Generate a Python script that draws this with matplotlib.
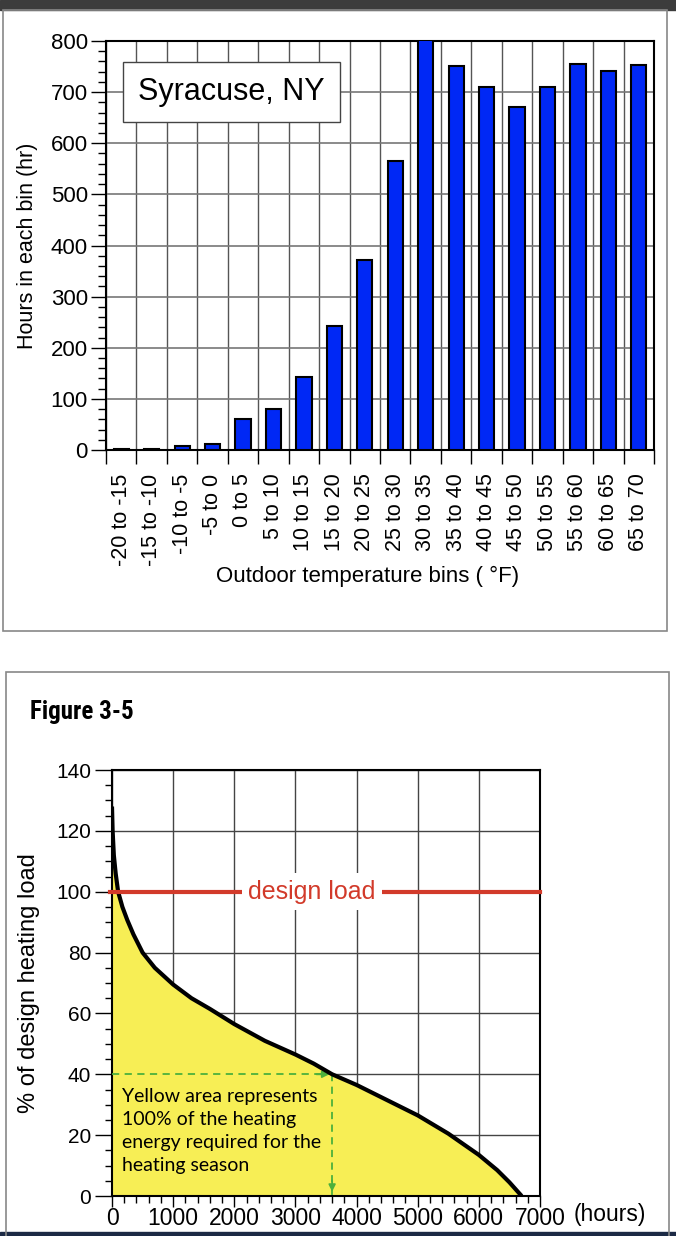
import matplotlib
matplotlib.use("Agg")
from matplotlib import pyplot as plt
from matplotlib import font_manager
from matplotlib.patches import Rectangle
from matplotlib.ticker import MultipleLocator
import numpy as np

plt.rcParams['font.family'] = ['Liberation Sans', 'DejaVu Sans']

# top chart data: hours per temperature bin, Syracuse NY
bins = ['-20 to -15', '-15 to -10', '-10 to -5', '-5 to 0', '0 to 5', '5 to 10',
        '10 to 15', '15 to 20', '20 to 25', '25 to 30', '30 to 35', '35 to 40',
        '40 to 45', '45 to 50', '50 to 55', '55 to 60', '60 to 65', '65 to 70']
hours = [2, 2, 8, 12, 60, 80, 143, 242, 372, 565, 820, 752,
         710, 670, 710, 755, 742, 753]

# bottom chart data: load duration curve
dur_hours = [0, 10, 30, 60, 100, 170, 250, 350, 500, 700, 1000, 1300, 1600,
             2000, 2500, 3000, 3300, 3600, 4000, 4500, 5000, 5500, 6000,
             6300, 6500, 6700]
dur_load = [128, 120, 112, 106, 100, 95, 90.7, 86, 80, 75, 69.5, 65, 61.5,
            56.5, 51, 46.5, 43.5, 40, 36.5, 31.5, 26.5, 20.5, 13.5,
            8.5, 4.5, 0]
design_load = 100
marker_hours = 3600
marker_load = 40

W, H = 676, 1236
fig = plt.figure(figsize=(W / 100, H / 100), dpi=100)

def fx(px):
    return px / W

def fy(py):
    return 1 - py / H

# page decorations
fig.add_artist(Rectangle((0, fy(10)), 1, 10 / H, transform=fig.transFigure,
                         color='#3c3c3c', zorder=0))
fig.add_artist(Rectangle((0, 0), 1, 4 / H, transform=fig.transFigure,
                         color='#1c2a45', zorder=0))
fig.add_artist(Rectangle((fx(3), fy(631)), fx(664), (631 - 10) / H,
                         transform=fig.transFigure, fill=False,
                         edgecolor='#888888', lw=1.2, zorder=0))
fig.add_artist(Rectangle((fx(6), fy(1240)), fx(663), (1240 - 672) / H,
                         transform=fig.transFigure, fill=False,
                         edgecolor='#888888', lw=1.2, zorder=0))

# ---------------- top bar chart ----------------
L1, R1 = 106, 654
ax1 = fig.add_axes([fx(L1), fy(450), fx(R1 - L1), (450 - 41) / H])
x = np.arange(len(bins))
ax1.bar(x, hours, width=0.5, color='#0028f5', edgecolor='black', lw=1.5, zorder=3)
ax1.set_xlim(-0.5, len(bins) - 0.5)
ax1.set_ylim(0, 800)
ax1.yaxis.set_major_locator(MultipleLocator(100))
ax1.yaxis.set_minor_locator(MultipleLocator(20))
ax1.set_xticks(np.arange(len(bins) + 1) - 0.5, minor=True)
ax1.set_xticks(x)
ax1.set_xticklabels(bins, rotation=90, fontsize=15.5)
ax1.tick_params(axis='x', which='major', length=0, pad=17)
ax1.tick_params(axis='x', which='minor', length=10, width=1, direction='out')
ax1.tick_params(axis='y', which='major', length=11, width=1, labelsize=16, pad=2)
ax1.tick_params(axis='y', which='minor', length=6, width=1)
ax1.grid(axis='y', which='major', color='#777777', lw=1.2, zorder=1)
ax1.grid(axis='x', which='minor', color='#555555', lw=1.0, zorder=1)
for s in ax1.spines.values():
    s.set_linewidth(1.5)
ax1.set_ylabel('Hours in each bin (hr)', fontsize=15.5)
ax1.yaxis.set_label_coords((38 - L1) / (R1 - L1), 0.5)
ax1.set_xlabel('Outdoor temperature bins ( \u00b0F)', fontsize=16)
ax1.xaxis.set_label_coords((368 - L1) / (R1 - L1), (450 - 566) / 409)
ax1.text(0.058, 0.912, 'Syracuse, NY', transform=ax1.transAxes, fontsize=22,
         va='top', ha='left', zorder=5,
         bbox=dict(boxstyle='square,pad=0.5', fc='white', ec='#444444', lw=1))

# ---------------- bottom load curve ----------------
names = {f.name for f in font_manager.fontManager.ttflist}
fig_font = 'Liberation Sans'
for cand in ['Liberation Sans Narrow', 'DejaVu Sans Condensed', 'Roboto Condensed']:
    if cand in names:
        fig_font = cand
        break
fig.text(fx(30), fy(712), 'Figure 3-5', fontsize=18, fontweight='bold',
         family=[fig_font, 'DejaVu Sans'], va='center', ha='left')

ax2 = fig.add_axes([fx(112), fy(1196), fx(540 - 112), (1196 - 770) / H])
ax2.set_xlim(0, 7000)
ax2.set_ylim(0, 140)
ax2.fill_between(dur_hours, dur_load, 0, color='#f7ee55', zorder=2, lw=0)
ax2.plot(dur_hours, dur_load, color='black', lw=3, zorder=4,
         solid_capstyle='butt', solid_joinstyle='round')
ax2.xaxis.set_major_locator(MultipleLocator(1000))
ax2.xaxis.set_minor_locator(MultipleLocator(200))
ax2.yaxis.set_major_locator(MultipleLocator(20))
ax2.yaxis.set_minor_locator(MultipleLocator(5))
ax2.grid(which='major', color='#444444', lw=1.0, zorder=1)
ax2.tick_params(axis='y', which='major', length=12, width=1, labelsize=15, pad=3)
ax2.tick_params(axis='x', which='major', length=8, width=1, labelsize=16.5, pad=0)
ax2.tick_params(axis='both', which='minor', length=5, width=1)
for s in ax2.spines.values():
    s.set_linewidth(1.5)
fig.text(fx(574), fy(1214), '(hours)', fontsize=16.5, ha='left', va='center')
ax2.set_ylabel('% of design heating load', fontsize=17)
ax2.yaxis.set_label_coords((40 - 112) / 428, 0.5)

# design load line with label
ax2.plot([-40, 7000], [design_load, design_load], color='#d23a2a', lw=3,
         zorder=5, clip_on=False)
ax2.text(3270, design_load, 'design load', color='#d23a2a', fontsize=18,
         ha='center', va='center', zorder=6,
         bbox=dict(boxstyle='square,pad=0.25', fc='white', ec='none'))

# green dashed marker lines
ax2.plot([0, marker_hours], [marker_load, marker_load], color='#4cb03c',
         lw=1.3, ls=(0, (4, 3)), zorder=3)
ax2.plot([marker_hours, marker_hours], [marker_load, 0], color='#4cb03c',
         lw=1.3, ls=(0, (4, 3)), zorder=3)
ax2.annotate('', xy=(marker_hours, marker_load), xytext=(marker_hours - 300, marker_load),
             arrowprops=dict(arrowstyle='-|>', color='#4cb03c', lw=1.3), zorder=3)
ax2.annotate('', xy=(marker_hours, 0.5), xytext=(marker_hours, 6),
             arrowprops=dict(arrowstyle='-|>', color='#4cb03c', lw=1.3), zorder=3)

ax2.text(160, 35.5, 'Yellow area represents\n100% of the heating\nenergy required for the\nheating season',
         fontsize=14, family=['Lato', 'DejaVu Sans'], ha='left', va='top',
         linespacing=1.42, zorder=6)

fig.savefig('out.png', dpi=100)
